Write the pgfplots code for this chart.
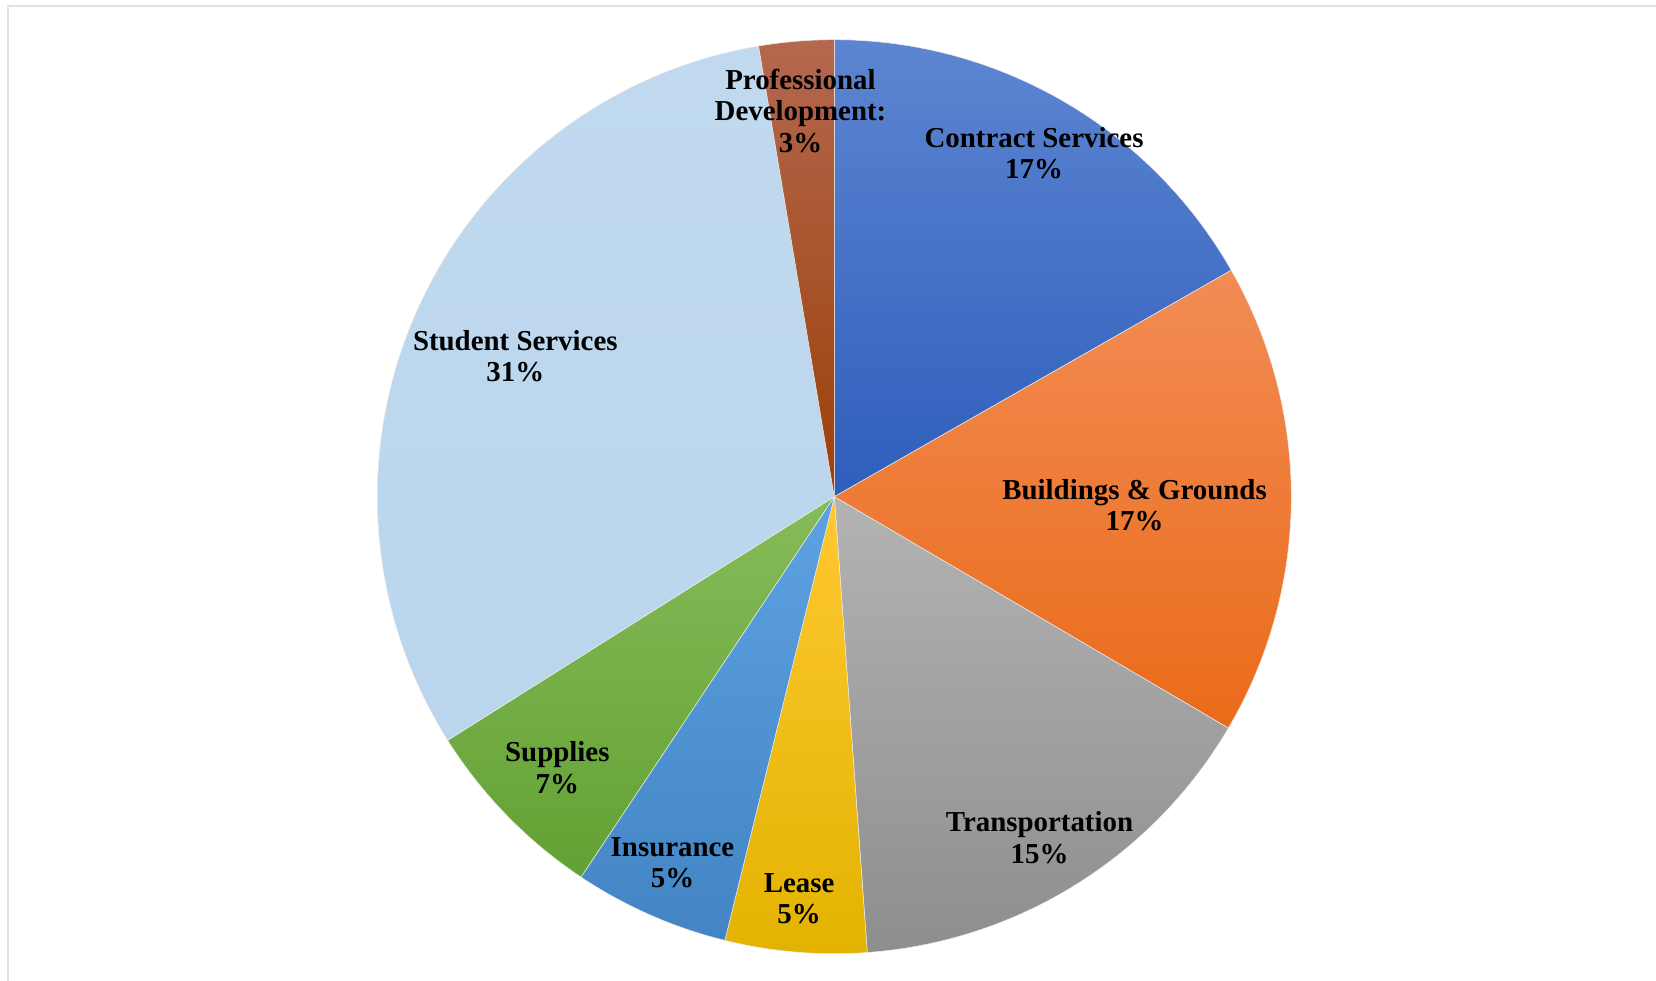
\documentclass[border=0pt]{standalone}
\usepackage{pgfplots}
\pgfplotsset{compat=1.18}
\usepackage{fontspec}
\setmainfont{Liberation Serif}
\definecolor{frameC}{HTML}{DDE1EA}
\definecolor{csT}{HTML}{5D85D1}\definecolor{csB}{HTML}{2E5EBC}
\definecolor{bgT}{HTML}{F28C55}\definecolor{bgB}{HTML}{EA6B19}
\definecolor{trT}{HTML}{B3B3B3}\definecolor{trB}{HTML}{8E8E8E}
\definecolor{leT}{HTML}{FFC832}\definecolor{leB}{HTML}{E3B300}
\definecolor{inT}{HTML}{5EA2E2}\definecolor{inB}{HTML}{4284C4}
\definecolor{suT}{HTML}{86BC5A}\definecolor{suB}{HTML}{62A133}
\definecolor{ssT}{HTML}{C0D9EF}\definecolor{ssB}{HTML}{BAD5EC}
\definecolor{pdT}{HTML}{B4684F}\definecolor{pdB}{HTML}{9C3F08}
\tikzset{lbl/.style={font=\fontsize{29}{31.5}\selectfont\bfseries, align=center, text=black, inner sep=0pt}}
% slice shares (percent), clockwise from 12 o'clock
\def\vCS{16.75}\def\vBG{16.7}\def\vTR{15.4}\def\vLE{5.0}
\def\vIN{5.5}\def\vSU{6.7}\def\vSS{31.3}\def\vPD{2.65}
\pgfmathsetmacro\cA{0}
\pgfmathsetmacro\cB{\cA+\vCS}
\pgfmathsetmacro\cC{\cB+\vBG}
\pgfmathsetmacro\cD{\cC+\vTR}
\pgfmathsetmacro\cE{\cD+\vLE}
\pgfmathsetmacro\cF{\cE+\vIN}
\pgfmathsetmacro\cG{\cF+\vSU}
\pgfmathsetmacro\cH{\cG+\vSS}
\pgfmathsetmacro\cI{\cH+\vPD}
\pgfmathsetmacro\aA{90-3.6*\cA}
\pgfmathsetmacro\aB{90-3.6*\cB}
\pgfmathsetmacro\aC{90-3.6*\cC}
\pgfmathsetmacro\aD{90-3.6*\cD}
\pgfmathsetmacro\aE{90-3.6*\cE}
\pgfmathsetmacro\aF{90-3.6*\cF}
\pgfmathsetmacro\aG{90-3.6*\cG}
\pgfmathsetmacro\aH{90-3.6*\cH}
\pgfmathsetmacro\aI{90-3.6*\cI}
\begin{document}
\begin{tikzpicture}
\useasboundingbox (0,0) rectangle (1656bp,981bp);
\draw[frameC, line width=2bp] (8.3bp,0) -- (8.3bp,975bp) -- (1656bp,975bp);
\begin{axis}[at={(834.3bp,484.3bp)}, anchor=origin, scale only axis,
  width=914bp, height=914bp, xmin=-1, xmax=1, ymin=-1, ymax=1,
  hide axis, clip=false,
  every axis plot/.append style={draw=white!85!gray, line width=0.5bp, samples=90, variable=\t}]
\addplot[top color=csT, bottom color=csB, domain=\aB:\aA] ({cos(\t)},{sin(\t)}) -- (axis cs:0,0) -- cycle;
\addplot[top color=bgT, bottom color=bgB, domain=\aC:\aB] ({cos(\t)},{sin(\t)}) -- (axis cs:0,0) -- cycle;
\addplot[top color=trT, bottom color=trB, domain=\aD:\aC] ({cos(\t)},{sin(\t)}) -- (axis cs:0,0) -- cycle;
\addplot[top color=leT, bottom color=leB, domain=\aE:\aD] ({cos(\t)},{sin(\t)}) -- (axis cs:0,0) -- cycle;
\addplot[top color=inT, bottom color=inB, domain=\aF:\aE] ({cos(\t)},{sin(\t)}) -- (axis cs:0,0) -- cycle;
\addplot[top color=suT, bottom color=suB, domain=\aG:\aF] ({cos(\t)},{sin(\t)}) -- (axis cs:0,0) -- cycle;
\addplot[top color=ssT, bottom color=ssB, domain=\aH:\aG] ({cos(\t)},{sin(\t)}) -- (axis cs:0,0) -- cycle;
\addplot[top color=pdT, bottom color=pdB, domain=\aI:\aH] ({cos(\t)},{sin(\t)}) -- (axis cs:0,0) -- cycle;
\node[lbl] at (axis cs:0.437,0.752) {Contract Services\\17\%};
\node[lbl] at (axis cs:0.657,-0.018) {Buildings \& Grounds\\17\%};
\node[lbl] at (axis cs:0.449,-0.746) {Transportation\\15\%};
\node[lbl] at (axis cs:-0.077,-0.880) {Lease\\5\%};
\node[lbl] at (axis cs:-0.354,-0.801) {Insurance\\5\%};
\node[lbl] at (axis cs:-0.606,-0.593) {Supplies\\7\%};
\node[lbl] at (axis cs:-0.698,0.308) {Student Services\\31\%};
\node[lbl] at (axis cs:-0.074,0.844) {Professional\\Development:\\3\%};
\end{axis}
\end{tikzpicture}
\end{document}
